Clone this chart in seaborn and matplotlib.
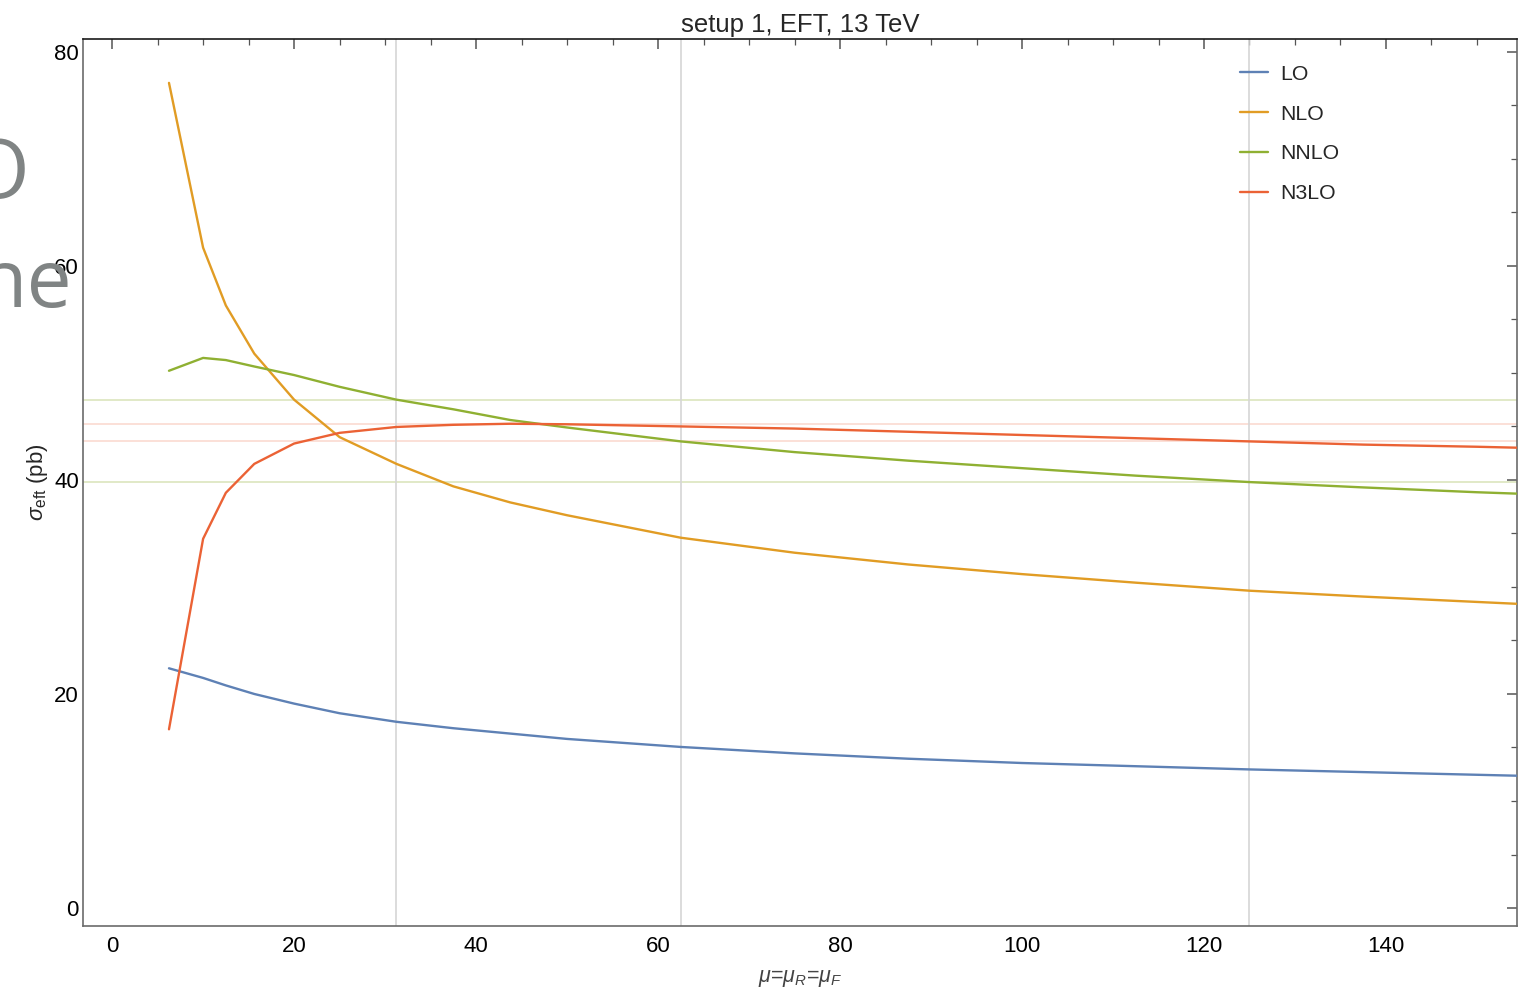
import numpy as np
import pandas as pd
import matplotlib
matplotlib.use("Agg")
import matplotlib.pyplot as plt
import seaborn as sns

# Scale choices mu = mu_R = mu_F (GeV)
mu = [6.25, 10, 12.5, 15.625, 20, 25, 31.25, 37.5, 43.75, 50, 62.5,
      75, 87.5, 100, 112.5, 125, 137.5, 150, 160]

# Cross sections (pb) per perturbative order
lo = [22.4, 21.5, 20.8, 20.0, 19.1, 18.2, 17.4, 16.8, 16.3, 15.8, 15.05,
      14.45, 13.95, 13.55, 13.25, 12.95, 12.7, 12.45, 12.25]
nlo = [77.1, 61.7, 56.3, 51.8, 47.5, 44.0, 41.5, 39.4, 37.9, 36.7, 34.6,
       33.2, 32.1, 31.2, 30.4, 29.65, 29.1, 28.6, 28.2]
nnlo = [50.2, 51.4, 51.2, 50.6, 49.8, 48.7, 47.5, 46.6, 45.6, 44.9, 43.6,
        42.6, 41.8, 41.1, 40.4, 39.8, 39.3, 38.85, 38.55]
n3lo = [16.7, 34.5, 38.8, 41.5, 43.4, 44.4, 44.95, 45.15, 45.25, 45.2, 45.0,
        44.8, 44.5, 44.2, 43.9, 43.6, 43.3, 43.1, 42.9]

orders = ["LO", "NLO", "NNLO", "N3LO"]
colors = ["#5E81B5", "#E19C24", "#8FB032", "#EB6235"]

# Reference scales m_H/4, m_H/2, m_H
ref_scales = [31.25, 62.5, 125]
x_ticks = [0, 20, 40, 60, 80, 100, 120, 140]
y_ticks = [0, 20, 40, 60, 80]

df = pd.DataFrame({
    "mu": mu * 4,
    "sigma": lo + nlo + nnlo + n3lo,
    "order": [o for o in orders for _ in mu],
})

sns.set_style("white")
plt.rcParams["font.family"] = ["Liberation Sans", "DejaVu Sans"]
plt.rcParams["mathtext.fontset"] = "custom"
plt.rcParams["mathtext.rm"] = "Liberation Sans"
plt.rcParams["mathtext.it"] = "Liberation Sans:italic"
plt.rcParams["mathtext.bf"] = "Liberation Sans:bold"

fig = plt.figure(figsize=(15.18, 9.92), dpi=100)
ax = fig.add_axes([83 / 1518, 66 / 992, (1517 - 83) / 1518, (926 - 39) / 992])

# Scale-variation band edges for NNLO and N3LO within [m_H/4, m_H]
band = df[(df["mu"] >= ref_scales[0]) & (df["mu"] <= ref_scales[-1])]
for order, col, a in [("NNLO", colors[2], 0.35), ("N3LO", colors[3], 0.25)]:
    s = band[band["order"] == order]["sigma"]
    for v in (s.max(), s.min()):
        ax.axhline(v, color=col, alpha=a, lw=1.1, zorder=1)

for xs in ref_scales:
    ax.axvline(xs, color="#d6d6d6", lw=1.2, zorder=1)

sns.lineplot(data=df, x="mu", y="sigma", hue="order", hue_order=orders,
             palette=dict(zip(orders, colors)), sort=False, estimator=None,
             lw=1.7, ax=ax, zorder=3)

ax.set_xlim(-3.2, 154.4)
ax.set_ylim(-1.68, 81.2)
ax.set_xticks(x_ticks)
ax.set_yticks(y_ticks)
ax.set_xticks(np.arange(0, 155, 5), minor=True)
ax.set_yticks(np.arange(0, 81, 5), minor=True)
ax.tick_params(which="both", direction="in", top=True, right=True,
               labeltop=False, labelright=False, colors="#555555",
               labelcolor="black", labelsize=16)
ax.tick_params(which="major", length=7, width=1.1)
ax.tick_params(which="minor", length=4, width=0.9)
ax.tick_params(axis="x", pad=7)
ax.tick_params(axis="y", pad=3)

for side in ["left", "bottom", "right"]:
    ax.spines[side].set_color("#6b6b6b")
    ax.spines[side].set_linewidth(1.2)
ax.spines["top"].set_color("#1a1a1a")
ax.spines["top"].set_linewidth(1.2)

ax.set_xlabel(r"$\mu$=$\mu_R$=$\mu_F$", fontsize=15.5, color="#444444", labelpad=8)
ax.set_ylabel(r"$\sigma_{\rm eft}$ (pb)", fontsize=16, labelpad=3)
ax.set_title("setup 1, EFT, 13 TeV", fontsize=18.5, pad=5)

leg = ax.legend(loc="upper left", bbox_to_anchor=(0.807, 0.971), frameon=False,
                fontsize=15.3, handlelength=1.32, handletextpad=0.56,
                labelspacing=0.98, borderpad=0, borderaxespad=0)
for line in leg.get_lines():
    line.set_linewidth(1.7)

# Large grey lettering along the left edge
fig.text(30 / 1518, 1 - 198 / 992, "O", ha="right", va="baseline",
         fontsize=60, color="#808484", family="Open Sans")
fig.text(72 / 1518, 1 - 307 / 992, "ne", ha="right", va="baseline",
         fontsize=58, color="#808484", family="Open Sans", zorder=0)

fig.savefig("out.png", dpi=100)
